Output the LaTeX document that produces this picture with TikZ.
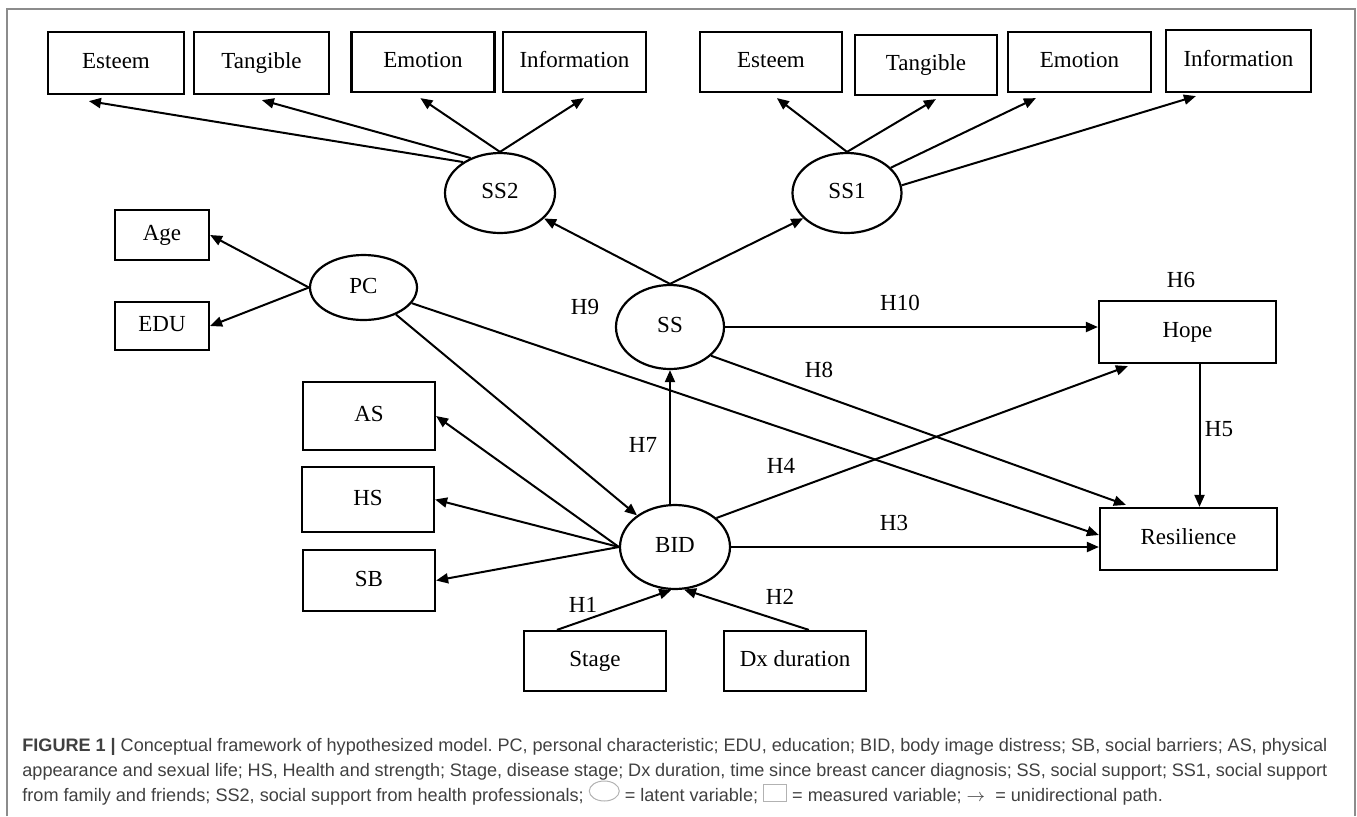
\documentclass[tikz,border=0pt]{standalone}
\usepackage{fontspec}
\setmainfont{Liberation Serif}
\newfontfamily\capfont{Liberation Sans}
\usetikzlibrary{shapes.geometric,arrows.meta,calc}

\definecolor{framegray}{gray}{0.55}
\definecolor{captext}{gray}{0.25}

\begin{document}
\begin{tikzpicture}[x=0.5pt, y=-0.5pt,
    measured/.style={draw, line width=1.1pt, inner sep=0pt, text height=8pt, text depth=2.5pt, font=\fontsize{11.5}{13}\selectfont},
    latent/.style={draw, ellipse, line width=1.1pt, inner sep=0pt, text height=8pt, text depth=2.5pt, font=\fontsize{11.5}{13}\selectfont},
    hyp/.style={font=\fontsize{11.5}{13}\selectfont},
    conn/.style={line width=1pt, -{Triangle[length=6pt,width=5pt]}},
    captionline/.style={anchor=base west, inner sep=0pt, text=captext, font=\capfont\fontsize{9.05}{12}\selectfont\frenchspacing}]
    \useasboundingbox (0,0) rectangle (1357,816);

    % Frame
    \draw[framegray, line width=0.8pt] (7,816) -- (7,9) -- (1355,9) -- (1355,816);

    % SS2 and its indicators
    \node[measured, minimum width=68pt, minimum height=31pt] (est2) at (116,63) {Esteem};
    \node[measured, minimum width=67.5pt, minimum height=31pt] (tan2) at (261.5,63) {Tangible};
    \node[measured, minimum width=71.5pt, minimum height=30pt] (emo2) at (423,62) {Emotion};
    \node[measured, minimum width=71.5pt, minimum height=30pt] (inf2) at (574.5,62) {Information};
    \node[latent, minimum width=55pt, minimum height=40pt] (SS2) at (500,193) {SS2};

    % SS1 and its indicators
    \node[measured, minimum width=71pt, minimum height=30pt] (est1) at (771,62) {Esteem};
    \node[measured, minimum width=71pt, minimum height=30pt] (tan1) at (926,65) {Tangible};
    \node[measured, minimum width=71.5pt, minimum height=30pt] (emo1) at (1079.5,62) {Emotion};
    \node[measured, minimum width=72.5pt, minimum height=31pt] (inf1) at (1238.5,61) {Information};
    \node[latent, minimum width=54.5pt, minimum height=40pt] (SS1) at (847,193) {SS1};

    % Personal characteristic
    \node[latent, minimum width=53.5pt, minimum height=32.5pt] (PC) at (363.5,287.5) {PC};
    \node[measured, minimum width=47pt, minimum height=25pt] (Age) at (162,235) {Age\hspace{12pt}};
    \node[measured, minimum width=47pt, minimum height=24pt] (EDU) at (162,326) {EDU};

    % Social support, body image distress
    \node[latent, minimum width=54pt, minimum height=42pt] (SS) at (670,327) {SS};
    \node[latent, minimum width=55pt, minimum height=42pt] (BID) at (675,547) {BID};
    \node[measured, minimum width=66pt, minimum height=34pt] (AS) at (369,416) {AS};
    \node[measured, minimum width=66pt, minimum height=32.5pt] (HS) at (368,499.5) {HS};
    \node[measured, minimum width=66pt, minimum height=30.5pt] (SB) at (369,580.5) {SB};
    \node[measured, minimum width=71pt, minimum height=30pt] (Stage) at (595,661) {Stage};
    \node[measured, minimum width=71pt, minimum height=30pt] (Dx) at (795,661) {Dx duration};

    % Outcomes
    \node[measured, minimum width=88.5pt, minimum height=31pt] (Hope) at (1187.5,332) {Hope};
    \node[measured, minimum width=88.5pt, minimum height=31pt] (Res) at (1188.5,539) {Resilience};

    % Loadings
    \draw[conn] (SS2.140) -- ($(est2.south west)+(42,6)$);
    \draw[conn] (SS2.130) -- ($(tan2.south west)+(69,5)$);
    \draw[conn] (SS2.north) -- ($(emo2.south west)+(70,5)$);
    \draw[conn] (SS2.north) -- ($(inf2.south west)+(82,5)$);
    \draw[conn] (SS1.north) -- ($(est1.south west)+(78,5)$);
    \draw[conn] (SS1.north) -- ($(tan1.south west)+(82,3)$);
    \draw[conn] (SS1.30) -- ($(emo1.south west)+(29,5)$);
    \draw[conn] (SS1.8) -- ($(inf1.south west)+(31,3)$);
    \draw[conn] (PC.west) -- (Age.east);
    \draw[conn] (PC.west) -- (EDU.east);
    \draw[conn] (SS.north) -- (SS2.-30);
    \draw[conn] (SS.north) -- (SS1.210);
    \draw[conn] (BID.west) -- (AS.east);
    \draw[conn] (BID.west) -- (HS.east);
    \draw[conn] (BID.west) -- (SB.east);

    % Paths
    \draw[conn] (SS.east) -- (SS.east -| Hope.west);
    \draw[conn] (SS.-35) -- ($(Res.north west)+(27,-2)$);
    \draw[conn] (PC) -- (BID);
    \draw[conn] (PC.-18) -- ($(Res.west)+(0,-4)$);
    \draw[conn] (SS.south |- BID.north) -- (SS.south);
    \draw[conn] (BID.35) -- ($(Hope.south west)+(30,2)$);
    \draw[conn] (BID.east) -- (BID.east -| Res.west);
    \draw[conn] ($(Hope.south)+(12,0)$) -- ($(Res.north)+(11,0)$);
    \draw[conn] ($(Stage.north west)+(34,0)$) -- (BID.-95);
    \draw[conn] ($(Dx.north west)+(86,0)$) -- (BID.-78);

    % Hypotheses
    \node[hyp] (h1) at (583,605) {H1};
    \node[hyp] (h2) at (780,597) {H2};
    \node[hyp] (h3) at (894,523) {H3};
    \node[hyp] (h4) at (781,466) {H4};
    \node[hyp] (h5) at (1219,429) {H5};
    \node[hyp] (h6) at (1181,280) {H6};
    \node[hyp] (h7) at (643,445) {H7};
    \node[hyp] (h8) at (819,370) {H8};
    \node[hyp] (h9) at (585,307) {H9};
    \node[hyp] (h10) at (900,303) {H10};

    % Caption
    \node[captionline] (cap1) at (22,751) {\hbox to 652.5pt{\textbf{FIGURE 1 |} Conceptual framework of hypothesized model. PC, personal characteristic; EDU, education; BID, body image distress; SB, social barriers; AS, physical}};
    \node[captionline] (cap2) at (22,776) {\hbox to 652.5pt{appearance and sexual life; HS, Health and strength; Stage, disease stage; Dx duration, time since breast cancer diagnosis; SS, social support; SS1, social support}};
    \node[captionline] (cap3) at (22,801) {from family and friends; SS2, social support from health professionals; \tikz[baseline=0pt]\draw[gray!60, line width=0.5pt] (0pt,5pt) ellipse (7.5pt and 5pt); = latent variable; \tikz[baseline=0pt]\draw[gray!60, line width=0.5pt] (0pt,0pt) rectangle (11.5pt,8.5pt); = measured variable; $\rightarrow$\ \ = unidirectional path.};
\end{tikzpicture}
\end{document}
